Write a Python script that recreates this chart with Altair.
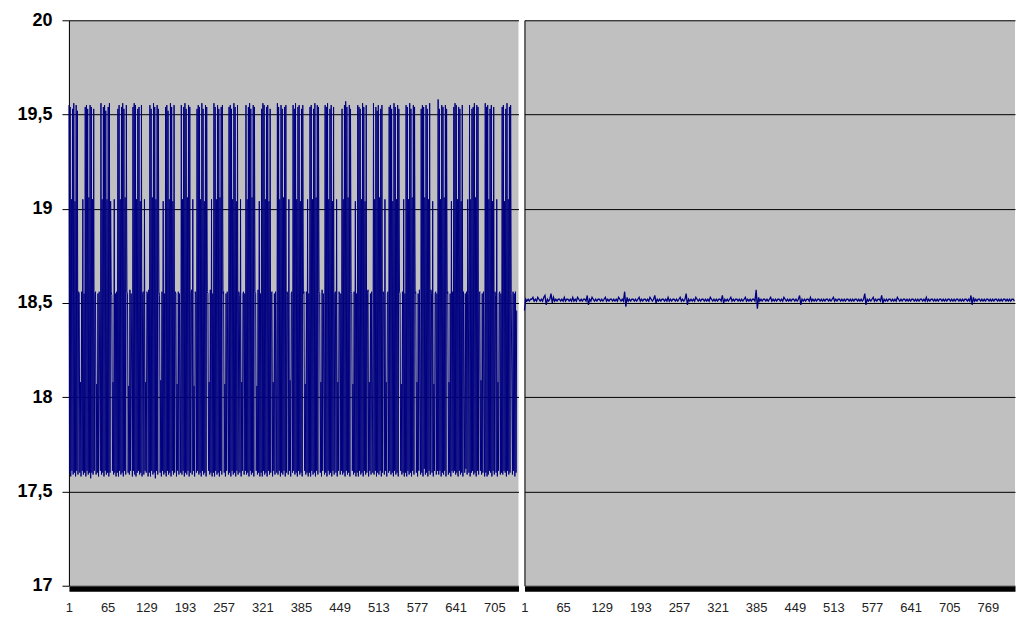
import altair as alt
import pandas as pd

y_ticks = [17, 17.5, 18, 18.5, 19, 19.5, 20]
left_ticks = [1, 65, 129, 193, 257, 321, 385, 449, 513, 577, 641, 705]
right_ticks = [1, 65, 129, 193, 257, 321, 385, 449, 513, 577, 641, 705, 769]

# left series: one value per sample, x = 1, 2, 3, ...
left_values = [
    19.55, 17.60, 19.54, 17.58, 19.05, 17.61, 19.53, 17.59, 19.56, 17.60, 19.04, 17.58, 19.55, 17.61, 19.52, 17.59, 18.56, 18.55, 17.60, 18.08, 17.58, 18.56, 17.61, 19.05, 17.59, 18.55, 17.60,
    19.54, 17.58, 19.55, 17.61, 19.53, 17.59, 19.06, 17.60, 19.55, 17.57, 19.54, 17.60, 19.05, 17.59, 19.53, 17.61, 18.55, 18.56, 17.59, 18.07, 17.60, 18.55, 17.58, 18.56, 18.09, 17.61,
    19.56, 17.59, 19.05, 17.60, 19.54, 17.58, 19.55, 17.61, 19.52, 17.59, 19.05, 17.60, 19.54, 17.58, 19.56, 17.60, 19.04, 18.56, 18.54, 17.61, 18.08, 17.59, 19.05, 17.60, 18.55, 17.58, 18.56,
    17.60, 19.53, 17.58, 19.55, 17.61, 19.05, 17.59, 19.54, 17.60, 19.56, 17.58, 19.53, 17.61, 19.06, 17.59, 19.55, 18.56, 18.55, 17.60, 18.06, 17.59, 18.57, 17.61, 18.55, 18.08, 17.58,
    19.54, 17.61, 19.56, 17.59, 19.55, 17.58, 19.05, 17.60, 19.53, 17.61, 19.54, 17.59, 19.04, 17.60, 19.55, 17.58, 18.55, 18.56, 17.59, 19.05, 17.61, 18.08, 17.60, 18.56, 18.55, 17.58, 18.57,
    17.60, 19.55, 17.58, 19.53, 17.61, 19.06, 17.59, 19.56, 17.60, 19.54, 17.57, 19.05, 17.61, 19.55, 17.59, 19.53, 18.56, 18.54, 17.60, 18.09, 17.58, 18.56, 17.61, 19.04, 17.59, 18.55,
    17.60, 19.54, 17.58, 19.55, 17.61, 19.52, 17.59, 19.05, 17.60, 19.56, 17.58, 19.54, 17.61, 19.04, 17.59, 19.55, 17.60, 18.56, 18.55, 17.58, 18.07, 17.61, 18.56, 17.59, 18.55, 18.08, 17.60,
    19.55, 17.59, 19.05, 17.61, 19.54, 17.58, 19.56, 17.60, 19.53, 17.59, 19.06, 17.61, 19.55, 17.58, 19.54, 17.60, 18.55, 18.57, 17.59, 19.05, 17.61, 18.06, 17.58, 18.56, 18.54, 17.60,
    19.53, 17.61, 19.55, 17.59, 19.54, 17.60, 19.05, 17.58, 19.56, 17.61, 19.53, 17.59, 19.04, 17.60, 19.55, 17.58, 19.54, 18.56, 18.55, 17.61, 18.08, 17.59, 18.57, 17.60, 19.05, 17.58, 18.55,
    17.60, 19.56, 17.58, 19.54, 17.61, 19.05, 17.59, 19.55, 17.60, 19.53, 17.58, 19.06, 17.61, 19.54, 17.59, 19.55, 18.55, 18.56, 17.60, 18.07, 17.58, 18.55, 17.61, 18.56, 18.09, 17.59,
    19.54, 17.60, 19.55, 17.58, 19.53, 17.61, 19.05, 17.59, 19.56, 17.60, 19.54, 17.58, 19.04, 17.61, 19.55, 17.59, 18.56, 18.54, 17.60, 19.05, 17.58, 18.08, 17.61, 18.55, 18.56, 17.59, 18.55,
    17.61, 19.55, 17.59, 19.05, 17.60, 19.54, 17.58, 19.56, 17.61, 19.53, 17.59, 19.06, 17.60, 19.55, 17.58, 19.54, 18.56, 18.55, 17.61, 18.06, 17.59, 18.57, 17.60, 19.04, 17.58, 18.55,
    17.60, 19.53, 17.58, 19.56, 17.61, 19.55, 17.59, 19.05, 17.60, 19.54, 17.58, 19.55, 17.61, 19.04, 17.59, 19.53, 17.60, 18.55, 18.56, 17.58, 18.08, 17.61, 18.55, 17.59, 18.56, 18.07, 17.60,
    19.56, 17.59, 19.54, 17.61, 19.05, 17.58, 19.55, 17.60, 19.53, 17.59, 19.06, 17.61, 19.54, 17.58, 19.55, 17.60, 18.56, 18.54, 17.59, 19.05, 17.61, 18.09, 17.58, 18.55, 18.56, 17.60,
    19.55, 17.61, 19.53, 17.59, 19.56, 17.60, 19.05, 17.58, 19.54, 17.61, 19.55, 17.59, 19.04, 17.60, 19.53, 17.58, 19.55, 18.55, 18.56, 17.61, 18.07, 17.59, 18.56, 17.60, 19.05, 17.58, 18.55,
    17.60, 19.54, 17.58, 19.55, 17.61, 19.05, 17.59, 19.53, 17.60, 19.56, 17.58, 19.06, 17.61, 19.55, 17.59, 19.54, 18.56, 18.55, 17.60, 18.08, 17.58, 18.57, 17.61, 18.55, 18.06, 17.59,
    19.55, 17.60, 19.54, 17.58, 19.56, 17.61, 19.05, 17.59, 19.53, 17.60, 19.55, 17.58, 19.04, 17.61, 19.54, 17.59, 18.55, 18.56, 17.60, 19.05, 17.58, 18.08, 17.61, 18.56, 18.54, 17.59, 18.55,
    17.61, 19.53, 17.59, 19.05, 17.60, 19.55, 17.58, 19.57, 17.61, 19.54, 17.59, 19.06, 17.60, 19.55, 17.58, 19.53, 18.56, 18.55, 17.61, 18.07, 17.59, 18.56, 17.60, 19.04, 17.58, 18.55,
    17.60, 19.55, 17.58, 19.54, 17.61, 19.53, 17.59, 19.05, 17.60, 19.56, 17.58, 19.54, 17.61, 19.04, 17.59, 19.55, 17.60, 18.55, 18.57, 17.58, 18.08, 17.61, 18.55, 17.59, 18.56, 18.09, 17.60,
    19.56, 17.59, 19.05, 17.61, 19.54, 17.58, 19.52, 17.60, 19.55, 17.59, 19.06, 17.61, 19.53, 17.58, 19.55, 17.60, 18.56, 18.54, 17.59, 19.05, 17.61, 18.08, 17.58, 18.55, 18.56, 17.60,
    19.54, 17.61, 19.55, 17.59, 19.53, 17.60, 19.04, 17.58, 19.56, 17.61, 19.54, 17.59, 19.05, 17.60, 19.55, 17.58, 19.53, 18.56, 18.55, 17.61, 18.07, 17.59, 18.56, 17.60, 19.05, 17.58, 18.55,
    17.60, 19.55, 17.58, 19.54, 17.61, 19.05, 17.59, 19.56, 17.60, 19.53, 17.58, 19.06, 17.61, 19.55, 17.59, 19.54, 18.55, 18.56, 17.60, 18.08, 17.58, 18.55, 17.61, 18.57, 18.07, 17.59,
    19.53, 17.60, 19.55, 17.58, 19.54, 17.62, 19.06, 17.59, 19.55, 17.60, 19.53, 17.58, 19.05, 17.61, 19.56, 17.59, 18.57, 18.55, 17.60, 19.04, 17.58, 18.07, 17.61, 18.55, 18.56, 17.59, 18.55,
    17.61, 19.58, 17.59, 19.53, 17.61, 19.05, 17.58, 19.55, 17.60, 19.54, 17.59, 19.06, 17.61, 19.55, 17.58, 19.53, 18.55, 18.56, 17.59, 18.08, 17.60, 18.55, 17.58, 19.04, 17.61, 18.56,
    17.60, 19.54, 17.61, 19.56, 17.59, 19.55, 17.60, 19.05, 17.58, 19.54, 17.61, 19.53, 17.59, 19.04, 17.60, 19.55, 17.58, 18.56, 18.08, 17.60, 18.55, 17.62, 18.56, 17.59, 19.05, 18.55, 17.60,
    19.55, 17.58, 19.05, 17.60, 19.53, 17.61, 19.54, 17.59, 19.56, 17.60, 19.06, 17.58, 19.55, 17.61, 19.54, 17.59, 18.55, 18.56, 17.61, 18.09, 17.59, 18.55, 17.60, 18.56, 18.07, 17.58,
    19.56, 17.60, 19.54, 17.58, 19.55, 17.59, 19.05, 17.61, 19.53, 17.60, 19.55, 17.58, 19.04, 17.61, 19.54, 17.59, 18.56, 18.54, 17.60, 19.05, 17.58, 18.08, 17.61, 18.55, 18.56, 17.59, 18.55,
    17.60, 19.54, 17.59, 19.55, 17.61, 19.04, 17.60, 19.53, 17.58, 19.56, 17.61, 19.05, 17.59, 19.54, 17.60, 19.55, 18.55, 18.07, 17.59, 18.56, 17.61, 18.55, 17.58, 18.56, 17.60, 18.46,
]

# right series: read every second sample (x = 1, 3, 5, ...)
right_values = [
    18.46, 18.52, 18.51, 18.52, 18.51, 18.52, 18.52, 18.53, 18.51, 18.52, 18.51, 18.53, 18.52, 18.51, 18.52, 18.51, 18.53, 18.54, 18.49, 18.52,
    18.51, 18.52, 18.55, 18.50, 18.53, 18.51, 18.52, 18.51, 18.52, 18.52, 18.51, 18.52, 18.51, 18.53, 18.51, 18.52, 18.52, 18.51, 18.52, 18.51,
    18.53, 18.51, 18.52, 18.51, 18.53, 18.52, 18.51, 18.52, 18.51, 18.52, 18.52, 18.51, 18.54, 18.49, 18.52, 18.51, 18.53, 18.52, 18.51, 18.52,
    18.51, 18.52, 18.52, 18.51, 18.52, 18.51, 18.52, 18.53, 18.51, 18.52, 18.51, 18.52, 18.52, 18.51, 18.52, 18.51, 18.52, 18.51, 18.53, 18.52,
    18.51, 18.52, 18.51, 18.56, 18.48, 18.53, 18.51, 18.52, 18.51, 18.52, 18.52, 18.51, 18.52, 18.51, 18.52, 18.53, 18.51, 18.52, 18.51, 18.52,
    18.52, 18.51, 18.52, 18.51, 18.53, 18.52, 18.51, 18.52, 18.54, 18.50, 18.52, 18.51, 18.52, 18.51, 18.52, 18.52, 18.51, 18.52, 18.51, 18.53,
    18.51, 18.52, 18.51, 18.52, 18.52, 18.51, 18.52, 18.51, 18.52, 18.53, 18.51, 18.52, 18.51, 18.52, 18.55, 18.49, 18.52, 18.51, 18.52, 18.51,
    18.52, 18.51, 18.53, 18.52, 18.51, 18.52, 18.51, 18.52, 18.52, 18.51, 18.52, 18.51, 18.52, 18.51, 18.53, 18.52, 18.51, 18.52, 18.51, 18.52,
    18.51, 18.52, 18.52, 18.51, 18.54, 18.50, 18.52, 18.51, 18.52, 18.51, 18.52, 18.53, 18.51, 18.52, 18.51, 18.52, 18.52, 18.51, 18.52, 18.51,
    18.52, 18.51, 18.52, 18.53, 18.51, 18.52, 18.51, 18.52, 18.51, 18.52, 18.52, 18.51, 18.57, 18.47, 18.53, 18.51, 18.52, 18.51, 18.52, 18.52,
    18.51, 18.52, 18.51, 18.52, 18.53, 18.51, 18.52, 18.51, 18.52, 18.51, 18.52, 18.52, 18.51, 18.52, 18.51, 18.53, 18.52, 18.51, 18.52, 18.51,
    18.52, 18.51, 18.52, 18.52, 18.51, 18.52, 18.51, 18.52, 18.54, 18.49, 18.52, 18.51, 18.52, 18.51, 18.52, 18.52, 18.51, 18.53, 18.51, 18.52,
    18.51, 18.52, 18.51, 18.52, 18.52, 18.51, 18.52, 18.51, 18.52, 18.51, 18.52, 18.52, 18.51, 18.52, 18.51, 18.52, 18.53, 18.51, 18.52, 18.51,
    18.52, 18.52, 18.51, 18.52, 18.51, 18.52, 18.51, 18.52, 18.52, 18.51, 18.52, 18.51, 18.52, 18.51, 18.52, 18.52, 18.51, 18.52, 18.51, 18.52,
    18.51, 18.52, 18.55, 18.49, 18.52, 18.51, 18.52, 18.51, 18.52, 18.53, 18.51, 18.52, 18.51, 18.52, 18.52, 18.51, 18.54, 18.50, 18.52, 18.51,
    18.52, 18.51, 18.52, 18.52, 18.51, 18.52, 18.51, 18.52, 18.51, 18.53, 18.52, 18.51, 18.52, 18.51, 18.52, 18.52, 18.51, 18.52, 18.51, 18.52,
    18.51, 18.52, 18.52, 18.51, 18.52, 18.51, 18.52, 18.51, 18.52, 18.52, 18.51, 18.52, 18.51, 18.53, 18.51, 18.52, 18.51, 18.52, 18.52, 18.51,
    18.52, 18.51, 18.52, 18.51, 18.52, 18.52, 18.51, 18.52, 18.51, 18.52, 18.51, 18.52, 18.52, 18.51, 18.52, 18.51, 18.52, 18.51, 18.52, 18.52,
    18.51, 18.52, 18.51, 18.52, 18.51, 18.52, 18.52, 18.51, 18.52, 18.51, 18.54, 18.49, 18.53, 18.51, 18.52, 18.51, 18.52, 18.52, 18.51, 18.52,
    18.51, 18.52, 18.51, 18.52, 18.52, 18.51, 18.52, 18.51, 18.52, 18.51, 18.52, 18.52, 18.51, 18.52, 18.51, 18.52, 18.51, 18.52, 18.52, 18.51,
    18.52, 18.51, 18.52, 18.51, 18.52, 18.52, 18.51,
]

left_df = pd.DataFrame({"i": list(range(1, len(left_values) + 1)), "v": left_values})
right_df = pd.DataFrame({"i": [1 + 2 * k for k in range(len(right_values))], "v": right_values})

LINE = "#000080"
FONT = "Liberation Sans"

yscale = alt.Scale(domain=[17, 20], nice=False, zero=False)


def x_axis(vals):
    return alt.Axis(values=vals, title=None, grid=False, ticks=False, tickSize=0,
                    domainColor="black", domainWidth=5, offset=3,
                    labelFont=FONT, labelFontSize=13, labelColor="#222222",
                    labelPadding=13, labelFlush=False, labelOverlap=False)


left = alt.Chart(left_df).mark_line(color=LINE, strokeWidth=1).encode(
    x=alt.X("i:Q", scale=alt.Scale(domain=[1, 745], nice=False, zero=False), axis=x_axis(left_ticks)),
    y=alt.Y("v:Q", scale=yscale, axis=alt.Axis(
        values=y_ticks, title=None, grid=True, gridColor="black", gridOpacity=1, gridWidth=1,
        domainColor="black", tickColor="black", tickSize=7,
        labelFont=FONT, labelFontSize=18, labelFontWeight="bold", labelColor="black",
        labelPadding=10, minExtent=64, maxExtent=64,
        labelExpr="replace(format(datum.value, '~g'), '.', ',')")),
).properties(width=450, height=566)

right = alt.Chart(right_df).mark_line(color=LINE, strokeWidth=1.3).encode(
    x=alt.X("i:Q", scale=alt.Scale(domain=[1, 814], nice=False, zero=False), axis=x_axis(right_ticks)),
    y=alt.Y("v:Q", scale=yscale, axis=alt.Axis(
        values=y_ticks, title=None, grid=True, gridColor="black", gridOpacity=1, gridWidth=1,
        domainColor="black", labels=False, ticks=False, minExtent=0, maxExtent=0)),
).properties(width=491, height=566)

chart = alt.hconcat(left, right, spacing=6, bounds="flush").configure_view(
    fill="#c0c0c0", stroke=None
).properties(
    padding={"left": 5, "top": 11, "right": 0, "bottom": 0}, background="white"
)

chart.save("out.html", embed_options={"renderer": "svg", "actions": False})
